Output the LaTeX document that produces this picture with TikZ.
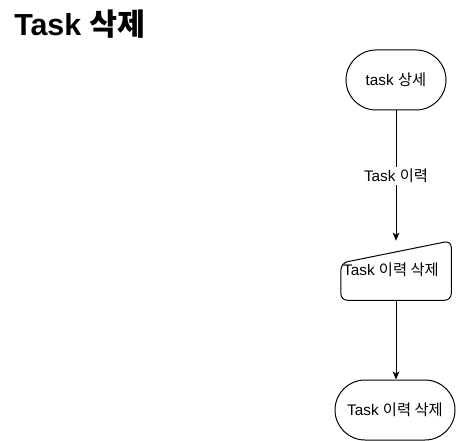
\documentclass[tikz,border=0pt]{standalone}
\usepackage{fontspec}
\setmainfont{Liberation Sans}
\newfontfamily\kr{Noto Sans CJK KR}
\usetikzlibrary{arrows.meta}
\begin{document}
\begin{tikzpicture}[x=0.75pt,y=-0.75pt,
  term/.style={draw, line width=0.75pt, rounded corners=22.5pt, inner sep=0pt, font=\fontsize{11.5}{13}\selectfont},
  conn/.style={draw, line width=0.75pt, -{Stealth[length=6pt,width=5pt,inset=1.5pt]}},
  lbl/.style={fill=white, inner sep=1.5pt, font=\fontsize{11.5}{13}\selectfont}]
\useasboundingbox (0,0) rectangle (456,441);
\node[anchor=base west, font=\fontsize{22.8}{26}\selectfont\bfseries, inner sep=0pt] (title) at (14,36) {Task {\kr 삭제}};
\node[term, minimum width=75pt, minimum height=45pt] (a) at (396,80) {task {\kr 상세}};
\node[inner sep=0pt, minimum width=82.5pt, minimum height=44.25pt] (m) at (396,270.5) {};
\draw[line width=0.75pt, rounded corners=5pt] (m.south west) -- (341,263) -- (m.north east) -- (m.south east) -- cycle;
\node[font=\fontsize{11.5}{13}\selectfont, inner sep=0pt] (mt) at (391,270) {Task {\kr 이력 삭제}};
\node[term, minimum width=90pt, minimum height=45pt] (b) at (395,410) {Task {\kr 이력 삭제}};
\draw[conn] (a) -- node[lbl] (l) {Task {\kr 이력}} (m.north);
\draw[conn] (m.south) -- (m.south |- b.north);
\end{tikzpicture}
\end{document}
